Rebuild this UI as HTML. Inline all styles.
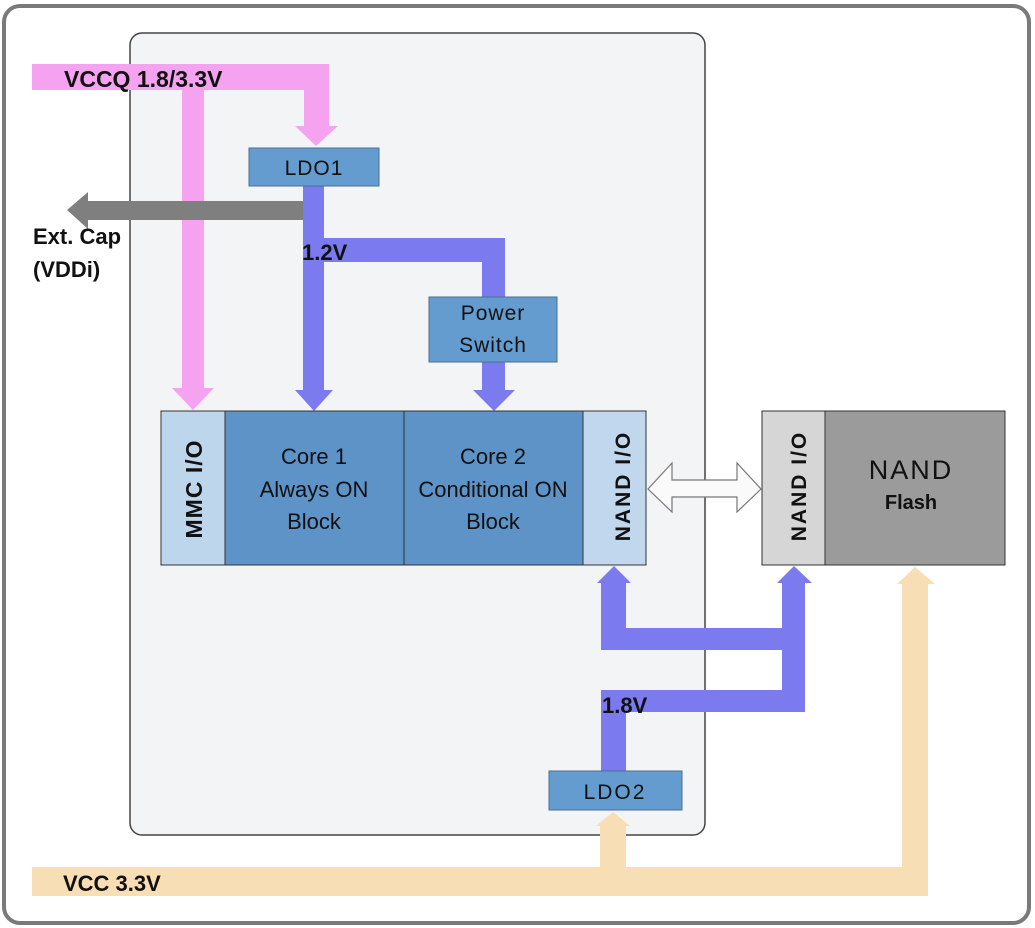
<!DOCTYPE html>
<html><head><style>
html,body{margin:0;padding:0;background:#fff;}
svg{display:block;}
text{font-family:"Liberation Sans",sans-serif;}
</style></head><body>
<svg width="1035" height="928" viewBox="0 0 1035 928" xmlns="http://www.w3.org/2000/svg">
<rect x="4" y="6" width="1025" height="917" rx="16" fill="#fff" stroke="#7a7a7a" stroke-width="4"/>
<rect x="130" y="33" width="575" height="802" rx="12" fill="#f3f4f6" stroke="#444" stroke-width="1.5"/>

<g fill="#f5a3f0">
<rect x="32" y="64" width="297" height="26"/>
<rect x="182" y="90" width="22" height="300"/>
<polygon points="172,388 214,388 193,410"/>
<rect x="304" y="90" width="25" height="38"/>
<polygon points="295,126 338,126 316,146"/>
</g>

<rect x="84" y="201" width="222" height="19" fill="#7f7f7f"/>
<polygon points="88,192 88,229 67,210" fill="#7f7f7f"/>

<g fill="#7b7bef">
<rect x="303" y="186" width="21" height="206"/>
<polygon points="295,390 333,390 314,411"/>
<rect x="324" y="238" width="181" height="24"/>
<rect x="482" y="238" width="23" height="60"/>
<rect x="482" y="362" width="23" height="30"/>
<polygon points="473,390 515,390 494,411"/>
</g>

<rect x="249" y="148" width="130" height="38" fill="#659ccf" stroke="#4b6f93" stroke-width="1"/>
<text x="314" y="175" font-size="21" text-anchor="middle" fill="#111" letter-spacing="1">LDO1</text>

<rect x="429" y="297" width="128" height="65" fill="#659ccf" stroke="#4b6f93" stroke-width="1"/>
<text x="493" y="320" font-size="21" text-anchor="middle" fill="#111" letter-spacing="1">Power</text>
<text x="493" y="352" font-size="21" text-anchor="middle" fill="#111" letter-spacing="1">Switch</text>

<rect x="161" y="411" width="64" height="154" fill="#bed6ec" stroke="#333" stroke-width="1"/>
<rect x="225" y="411" width="179" height="154" fill="#5e93c8" stroke="#333" stroke-width="1"/>
<rect x="404" y="411" width="179" height="154" fill="#5e93c8" stroke="#333" stroke-width="1"/>
<rect x="583" y="411" width="63" height="154" fill="#c0d7ee" stroke="#333" stroke-width="1"/>
<text transform="translate(202,489) rotate(-90)" font-size="23" font-weight="bold" text-anchor="middle" fill="#111" letter-spacing="1">MMC I/O</text>
<text x="314" y="464" font-size="22" text-anchor="middle" fill="#111">Core 1</text>
<text x="314" y="497" font-size="22" text-anchor="middle" fill="#111">Always ON</text>
<text x="314" y="529" font-size="22" text-anchor="middle" fill="#111">Block</text>
<text x="493" y="464" font-size="22" text-anchor="middle" fill="#111">Core 2</text>
<text x="493" y="497" font-size="22" text-anchor="middle" fill="#111">Conditional ON</text>
<text x="493" y="529" font-size="22" text-anchor="middle" fill="#111">Block</text>
<text transform="translate(630,486) rotate(-90)" font-size="21" font-weight="bold" text-anchor="middle" fill="#111" letter-spacing="2">NAND I/O</text>

<rect x="762" y="411" width="63" height="154" fill="#d6d6d6" stroke="#333" stroke-width="1"/>
<rect x="825" y="411" width="180" height="154" fill="#9b9b9b" stroke="#333" stroke-width="1"/>
<text transform="translate(806,486) rotate(-90)" font-size="21" font-weight="bold" text-anchor="middle" fill="#111" letter-spacing="2">NAND I/O</text>
<text x="911" y="479" font-size="27" text-anchor="middle" fill="#111" letter-spacing="2">NAND</text>
<text x="911" y="509" font-size="20" font-weight="bold" text-anchor="middle" fill="#111">Flash</text>

<polygon points="648,489 672,463 672,480 737,480 737,463 761,489 737,512 737,497 672,497 672,512" fill="#fafafa" stroke="#777" stroke-width="1.2"/>

<g fill="#7b7bef">
<rect x="601" y="582" width="25" height="68"/>
<polygon points="597,583 631,583 614,566"/>
<rect x="601" y="628" width="204" height="22"/>
<rect x="782" y="582" width="23" height="130"/>
<polygon points="777,583 812,583 794,566"/>
<rect x="601" y="690" width="204" height="22"/>
<rect x="601" y="690" width="25" height="82"/>
</g>

<rect x="549" y="771" width="133" height="39" fill="#659ccf" stroke="#4b6f93" stroke-width="1"/>
<text x="615" y="799" font-size="21" text-anchor="middle" fill="#111" letter-spacing="2">LDO2</text>

<g fill="#f8deb4">
<rect x="32" y="867" width="896" height="29"/>
<rect x="600" y="825" width="26" height="45"/>
<polygon points="596,826 630,826 613,812"/>
<rect x="902" y="582" width="26" height="314"/>
<polygon points="897,584 935,584 915,567"/>
</g>

<text x="64" y="87" font-size="23" font-weight="bold" fill="#111">VCCQ 1.8/3.3V</text>
<text x="33" y="244" font-size="22" font-weight="bold" fill="#111">Ext. Cap</text>
<text x="33" y="277" font-size="22" font-weight="bold" fill="#111">(VDDi)</text>
<text x="302" y="260" font-size="22" font-weight="bold" fill="#111">1.2V</text>
<text x="602" y="713" font-size="22" font-weight="bold" fill="#111">1.8V</text>
<text x="63" y="891" font-size="22" font-weight="bold" fill="#111">VCC 3.3V</text>
</svg>
</body></html>
